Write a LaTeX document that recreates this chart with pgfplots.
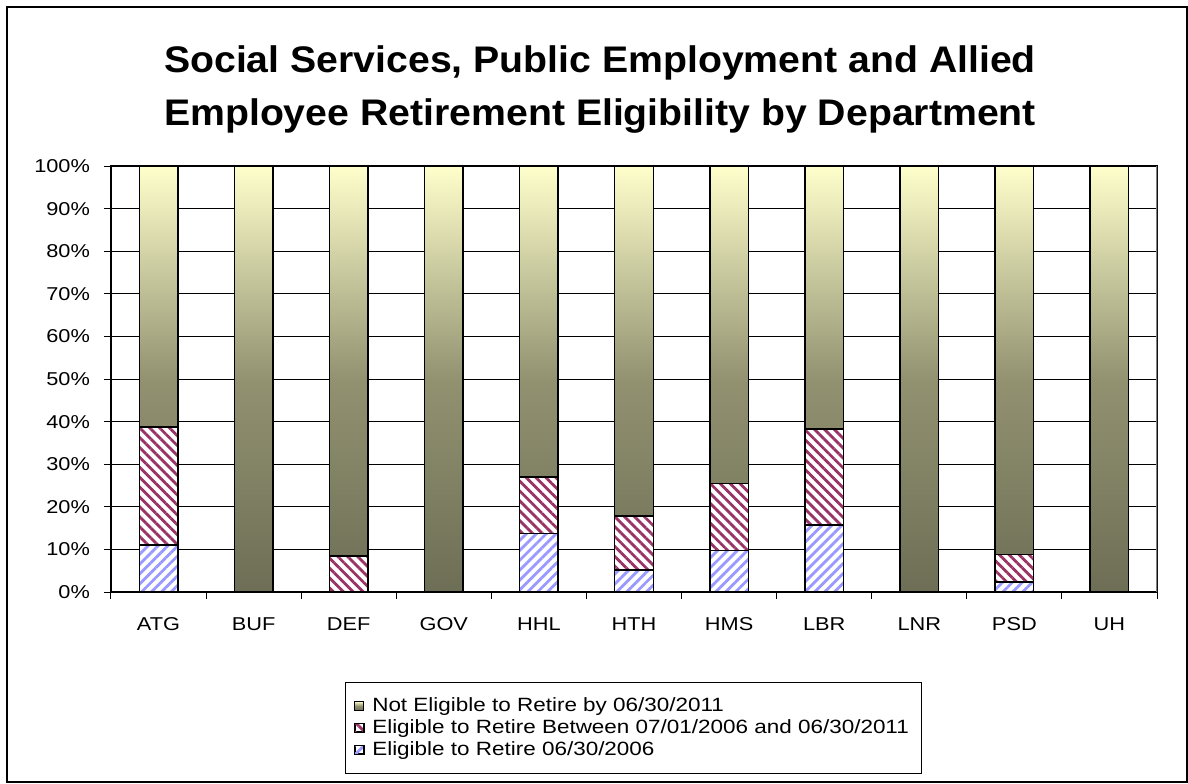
\documentclass[border=0pt]{standalone}
\usepackage{fontspec}
\setmainfont{Liberation Sans}
\newfontfamily\lblfont[FakeStretch=1.17]{Liberation Sans}
\newfontfamily\ttlfont[FakeStretch=1.06]{Liberation Sans}
\usepackage{pgfplots}
\usepackage{pgfplotstable}
\pgfplotsset{compat=1.18}
\usetikzlibrary{patterns.meta}

\definecolor{maroonln}{RGB}{153,51,102}
\definecolor{blueln}{RGB}{153,153,255}
\definecolor{oltop}{RGB}{255,255,204}
\definecolor{olmid}{RGB}{146,146,113}
\definecolor{olbot}{RGB}{110,110,86}

% share of staff, in percent
\pgfplotstableread{
x dept early between not
0  ATG 11.0 27.7 61.3
1  BUF 0    0    100
2  DEF 0    8.5  91.5
3  GOV 0    0    100
4  HHL 13.7 13.3 73.0
5  HTH 5.2  12.6 82.2
6  HMS 9.7  15.8 74.5
7  LBR 15.7 22.6 61.7
8  LNR 0    0    100
9  PSD 2.3  6.5  91.2
10 UH  0    0    100
}\data

\begin{document}
\begin{tikzpicture}
\begin{axis}[
  name=ax,
  scale only axis, width=523pt, height=213pt,
  ybar stacked, bar width=0.405,
  xmin=-0.5, xmax=10.5, ymin=0, ymax=100,
  xtick={-0.5,0.5,...,10.5}, xticklabels={},
  extra x ticks={0,...,10},
  extra x tick labels={ATG,BUF,DEF,GOV,HHL,HTH,HMS,LBR,LNR,PSD,UH},
  extra x tick style={major tick length=0pt, grid=none},
  ytick={0,10,...,100},
  yticklabels={0\%,10\%,20\%,30\%,40\%,50\%,60\%,70\%,80\%,90\%,100\%},
  xtick pos=bottom, ytick pos=left,
  ymajorgrids, major grid style={black, line width=0.5pt},
  tick align=outside, major tick length=3.5pt,
  tick style={black, line width=0.5pt},
  axis line style={black, line width=0.6pt},
  tick label style={font=\lblfont\fontsize{9.3}{11}\selectfont},
  xticklabel style={yshift=-8.5pt, text height=7pt, text depth=0pt},
  yticklabel style={xshift=-3.5pt},
  legend style={at={(0.2237,-0.211)}, anchor=north west, draw=black,
    line width=0.5pt, font=\lblfont\fontsize{9.6}{11}\selectfont,
    cells={anchor=west}, row sep=-1.5pt, column sep=2pt,
    inner xsep=4.5pt, inner ysep=5.5pt},
  legend image code/.code={\draw[#1, line width=0.5pt] (0pt,-2.2pt) rectangle (4.4pt,2.2pt);},
  reverse legend,
]
\addplot[draw=black, line width=0.75pt, preaction={fill=white},
  pattern={Lines[angle=45,distance=3.5pt,line width=1.4pt]}, pattern color=blueln]
  table[x=x,y=early]{\data};
\addplot[draw=black, line width=0.75pt, preaction={fill=white},
  pattern={Lines[angle=-45,distance=3.5pt,line width=1.4pt]}, pattern color=maroonln]
  table[x=x,y=between]{\data};
\addplot[draw=black, line width=0.75pt, top color=oltop, bottom color=olbot, middle color=olmid]
  table[x=x,y=not]{\data};
\legend{Eligible to Retire 06/30/2006,
  Eligible to Retire Between 07/01/2006 and 06/30/2011,
  Not Eligible to Retire by 06/30/2011}
\draw[gray, line width=0.6pt] (rel axis cs:1,0) -- (rel axis cs:1,1);
\end{axis}
\node[anchor=north, align=center, inner sep=0pt,
  font=\ttlfont\bfseries\fontsize{18.5}{26.5}\selectfont]
  at ([shift={(244.5pt,273.5pt)}]ax.south west)
  {Social Services, Public Employment and Allied\\Employee Retirement Eligibility by Department};
\draw[line width=0.6pt] ([shift={(-52pt,-95pt)}]ax.south west)
  rectangle ([shift={(538pt,292.5pt)}]ax.south west);
\pgfresetboundingbox
\path ([shift={(-55.5pt,-95.5pt)}]ax.south west)
  rectangle ([shift={(538.5pt,296pt)}]ax.south west);
\end{tikzpicture}
\end{document}
